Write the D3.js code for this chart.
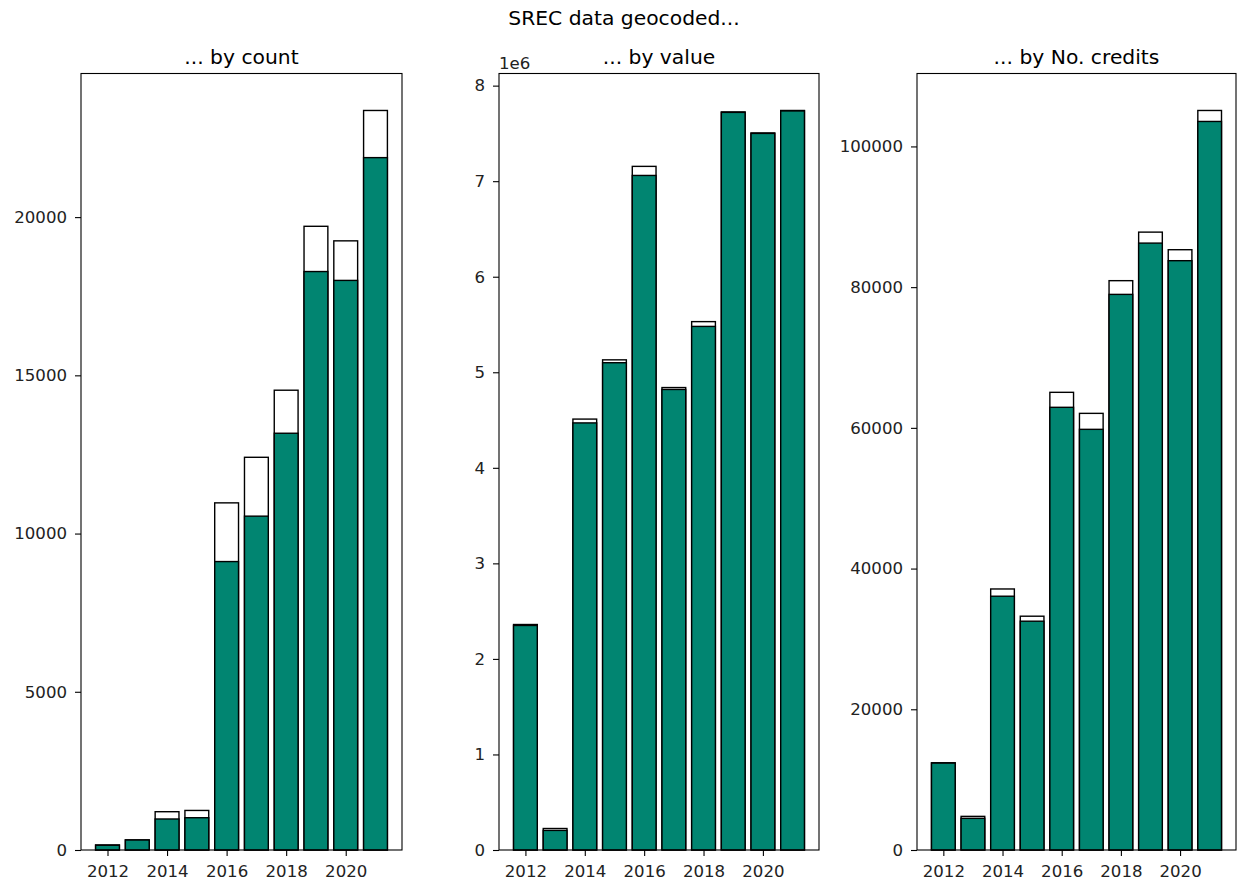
<!DOCTYPE html>
<html>
<head>
<meta charset="utf-8">
<script src="https://cdn.jsdelivr.net/npm/d3@7"></script>
<style>
  html, body { margin: 0; padding: 0; background: #fff; }
  svg { display: block; font-family: "DejaVu Sans", sans-serif; }
</style>
</head>
<body>
<svg id="chart" width="1238" height="886"></svg>
<script>
// Years on the x axis
const years = [2012, 2013, 2014, 2015, 2016, 2017, 2018, 2019, 2020, 2021];

// Number of SREC records: all records vs. geocoded records
const countTotal    = [160, 320, 1210, 1250, 10970, 12410, 14530, 19710, 19250, 23370];
const countGeocoded = [150, 315, 980, 1020, 9115, 10550, 13170, 18280, 18000, 21880];

// Value of records
const valueTotal    = [2.36e6, 0.225e6, 4.51e6, 5.13e6, 7.155e6, 4.84e6, 5.53e6, 7.725e6, 7.505e6, 7.74e6];
const valueGeocoded = [2.35e6, 0.205e6, 4.47e6, 5.10e6, 7.06e6, 4.82e6, 5.48e6, 7.72e6, 7.50e6, 7.735e6];

// Number of credits
const creditsTotal    = [12400, 4780, 37100, 33230, 65050, 62060, 80920, 87820, 85320, 105110];
const creditsGeocoded = [12350, 4500, 36070, 32520, 62920, 59790, 78970, 86260, 83760, 103550];

// Tick values per panel
const xTicks = [2012, 2014, 2016, 2018, 2020];
const countTicks = [0, 5000, 10000, 15000, 20000];
const valueTicks = [0, 1, 2, 3, 4, 5, 6, 7, 8];
const creditsTicks = [0, 20000, 40000, 60000, 80000, 100000];

const suptitle = "SREC data geocoded...";
const panels = [
  { title: "... by count", total: countTotal, geo: countGeocoded, ticks: countTicks, scaleDiv: 1, offset: null, left: 81, right: 402 },
  { title: "... by value", total: valueTotal, geo: valueGeocoded, ticks: valueTicks, scaleDiv: 1e6, offset: "1e6", left: 499, right: 819 },
  { title: "... by No. credits", total: creditsTotal, geo: creditsGeocoded, ticks: creditsTicks, scaleDiv: 1, offset: null, left: 917, right: 1236 }
];

const plotTop = 73.5, plotBottom = 850;
const green = "#018571";
const barW = 0.8;
const tickFont = 16.6, titleFont = 20.3;
const svg = d3.select("#chart");

svg.append("text")
  .attr("x", 624).attr("y", 25)
  .attr("text-anchor", "middle")
  .attr("font-size", titleFont)
  .attr("fill", "#000")
  .text(suptitle);

panels.forEach(p => {
  // 5% padding around the bars horizontally, 5% headroom on top
  const xmin = years[0] - barW / 2, xmax = years[years.length - 1] + barW / 2;
  const pad = (xmax - xmin) * 0.05;
  const x = d3.scaleLinear().domain([xmin - pad, xmax + pad]).range([p.left, p.right]);
  const ymax = d3.max(p.total) * 1.05;
  const y = d3.scaleLinear().domain([0, ymax]).range([plotBottom, plotTop]);

  const g = svg.append("g");

  // total bars (white) then geocoded bars (green) drawn over them
  g.selectAll("rect.total").data(years).join("rect")
    .attr("class", "total")
    .attr("x", (d) => x(d - barW / 2))
    .attr("width", (d) => x(d + barW / 2) - x(d - barW / 2))
    .attr("y", (d, i) => y(p.total[i]))
    .attr("height", (d, i) => y(0) - y(p.total[i]))
    .attr("fill", "#fff").attr("stroke", "#000").attr("stroke-width", 1.4);

  g.selectAll("rect.geo").data(years).join("rect")
    .attr("class", "geo")
    .attr("x", (d) => x(d - barW / 2))
    .attr("width", (d) => x(d + barW / 2) - x(d - barW / 2))
    .attr("y", (d, i) => y(p.geo[i]))
    .attr("height", (d, i) => y(0) - y(p.geo[i]))
    .attr("fill", green).attr("stroke", "#000").attr("stroke-width", 1.4);

  // axes
  const yAxis = d3.axisLeft(y)
    .tickValues(p.ticks.map(t => t * p.scaleDiv))
    .tickFormat(v => String(Math.round(v / p.scaleDiv)))
    .tickSize(6).tickPadding(8);
  const ya = g.append("g").attr("transform", `translate(${p.left},0)`).call(yAxis);

  const xAxis = d3.axisBottom(x)
    .tickValues(xTicks)
    .tickFormat(d3.format("d"))
    .tickSize(6).tickPadding(9);
  const xa = g.append("g").attr("transform", `translate(0,${plotBottom})`).call(xAxis);

  [ya, xa].forEach(a => {
    a.select(".domain").remove();
    a.selectAll(".tick line").attr("stroke", "#000").attr("stroke-width", 1.1);
    a.selectAll(".tick text").attr("fill", "#222").attr("font-size", tickFont)
      .attr("font-family", "DejaVu Sans, sans-serif");
  });

  // frame
  g.append("rect")
    .attr("x", p.left).attr("y", plotTop)
    .attr("width", p.right - p.left).attr("height", plotBottom - plotTop)
    .attr("fill", "none").attr("stroke", "#000").attr("stroke-width", 1.1);

  // panel title
  g.append("text")
    .attr("x", (p.left + p.right) / 2).attr("y", 64)
    .attr("text-anchor", "middle")
    .attr("font-size", titleFont).attr("fill", "#000")
    .text(p.title);

  if (p.offset) {
    g.append("text")
      .attr("x", p.left).attr("y", 69)
      .attr("font-size", tickFont).attr("fill", "#222")
      .text(p.offset);
  }
});
</script>
</body>
</html>
